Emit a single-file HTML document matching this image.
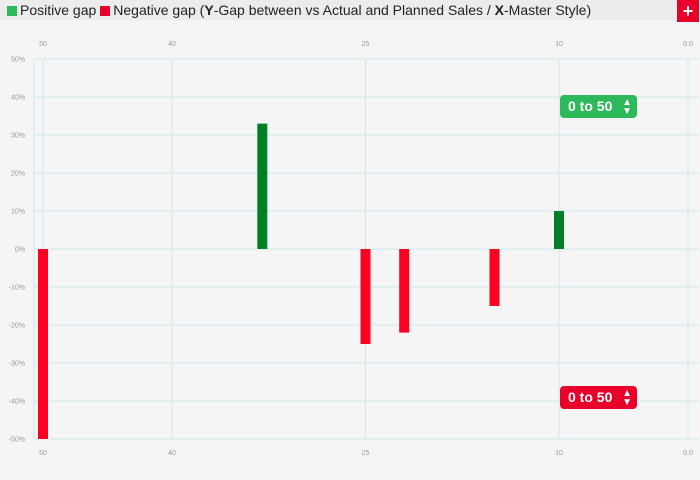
<!DOCTYPE html>
<html><head><meta charset="utf-8"><style>
body{margin:0;width:700px;height:480px;background:#f5f5f5;font-family:"Liberation Sans",sans-serif;overflow:hidden;position:relative}
#legend{position:absolute;left:0;top:0;width:700px;height:20px;background:#ececec;font-size:14px;color:#222;line-height:20px}
.sw{display:inline-block;width:10px;height:10px;vertical-align:-1px;margin:0 3px 0 7px}
#plus{position:absolute;left:677px;top:0;width:22px;height:22px;background:#e8002a;color:#fff;font-size:18px;font-weight:bold;text-align:center;line-height:22px}
.rng{position:absolute;width:77px;height:23px;border-radius:4px;color:#fff;font-weight:bold;font-size:14px;line-height:23px;padding-left:8px;box-sizing:border-box}
.rng span{position:absolute;right:5px;top:0;font-size:10px;line-height:9px;padding-top:3px}
</style></head><body>
<div id="legend"><span class="sw" style="background:#2db85a"></span>Positive gap<span class="sw" style="background:#e8002a;margin-left:4px"></span>Negative gap (<b>Y</b>-Gap between vs Actual and Planned Sales / <b>X</b>-Master Style)</div>
<div id="plus">+</div>
<svg id="chart" width="700" height="480" style="position:absolute;left:0;top:0"></svg>
<div class="rng" style="left:560px;top:95px;background:#2db85a">0 to 50<span>▲<br>▼</span></div>
<div class="rng" style="left:560px;top:386px;background:#e8002a">0 to 50<span>▲<br>▼</span></div>
<script>
const categories=[50,33,25,22,15,10];
const gaps=[-50,33,-25,-22,-15,10];
const xTicks=[50,40,25,10,0];
const xTickLabels=["50","40","25","10","0.0"];
const yTicks=[50,40,30,20,10,0,-10,-20,-30,-40,-50];
const svg=document.getElementById('chart');
const NS='http://www.w3.org/2000/svg';
const x=v=>43+(50-v)*12.9;
const y=v=>249-v*3.8;
function mk(t,a){const e=document.createElementNS(NS,t);for(const k in a)e.setAttribute(k,a[k]);svg.appendChild(e);return e;}
yTicks.forEach(t=>{
 const l=mk('line',{x1:34,x2:698,y1:y(t),y2:y(t),stroke:'#cfe9f0','stroke-width':1});
 
 
 const tx=mk('text',{x:25,y:y(t)+2.5,'text-anchor':'end','font-size':7,fill:'#999'});
 tx.textContent=t+'%';
 
 
});
const ax=mk('line',{x1:34,x2:34,y1:59,y2:439,stroke:'#cfe9f0'});


xTicks.forEach((t,i)=>{
 const l=mk('line',{x1:x(t),x2:x(t),y1:59,y2:439,stroke:'#cfe9f0'});
 
 
 [46,455].forEach(yy=>{
  const tx=mk('text',{x:x(t),y:yy,'text-anchor':'middle','font-size':7,fill:'#999'});
  tx.textContent=xTickLabels[i];
  
  
 });
});
categories.forEach((c,i)=>{
 const v=gaps[i];
 const r=mk('rect',{x:x(c)-5,width:10,y:Math.min(y(0),y(v)),height:Math.abs(y(v)-y(0)),fill:v>=0?'#008024':'#ff0022'});
 
 
});
</script>
</body></html>
